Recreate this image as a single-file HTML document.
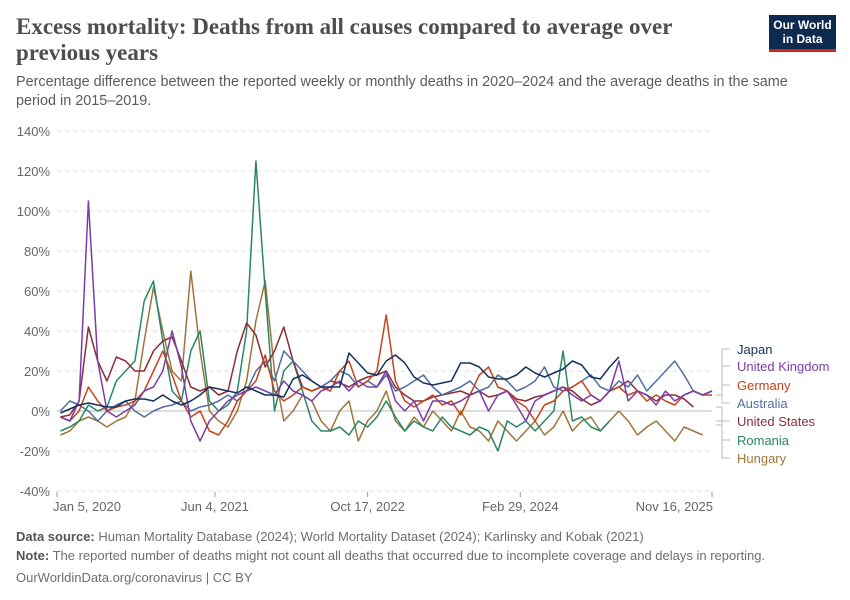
<!DOCTYPE html>
<html><head><meta charset="utf-8">
<style>
body{margin:0;background:#fff;width:850px;height:600px;overflow:hidden;font-family:"Liberation Sans",sans-serif;}
#title{position:absolute;left:16px;top:14px;font-family:"Liberation Serif",serif;font-weight:bold;font-size:23px;line-height:26px;color:#4e4e4e;width:700px;}
#subtitle{position:absolute;left:16px;top:73px;font-size:14.4px;line-height:19px;color:#5b5b5b;width:800px;}
#logo{position:absolute;left:769px;top:15px;width:67px;height:37px;background:#0f2a4f;color:#fff;font-size:12px;line-height:14px;text-align:center;font-weight:bold;border-bottom:3px solid #ce261e;box-sizing:border-box;padding-top:3px;}
.foot{position:absolute;left:16px;font-size:13px;color:#6e6e6e;}
.foot b{color:#555;}
</style></head><body>
<div id="title">Excess mortality: Deaths from all causes compared to average over previous years</div>
<div id="subtitle">Percentage difference between the reported weekly or monthly deaths in 2020–2024 and the average deaths in the same period in 2015–2019.</div>
<div id="logo">Our World<br>in Data</div>
<svg id="chart" width="850" height="600" style="position:absolute;left:0;top:0"></svg>
<div class="foot" style="top:529px"><b>Data source:</b> Human Mortality Database (2024); World Mortality Dataset (2024); Karlinsky and Kobak (2021)</div>
<div class="foot" style="top:548px"><b>Note:</b> The reported number of deaths might not count all deaths that occurred due to incomplete coverage and delays in reporting.</div>
<div class="foot" style="top:570px">OurWorldinData.org/coronavirus | CC BY</div>
<script>
const yTicks=[-40,-20,0,20,40,60,80,100,120,140];
const xTickLabels=["Jan 5, 2020","Jun 4, 2021","Oct 17, 2022","Feb 29, 2024","Nov 16, 2025"];
const xTickMonths=[0.13,17.1,33.5,49.9,70.5];
const seriesNames=["Japan","United Kingdom","Germany","Australia","United States","Romania","Hungary"];
const japan=[-1,1,3,4,3,2,2,5,6,6,5,8,5,3,5,8,12,11,10,9,12,10,8,8,7,16,18,15,12,12,12,29,24,19,18,25,28,24,17,14,13,14,15,24,24,22,17,16,16,18,22,19,17,19,21,25,23,17,16,22,27];
const uk=[-3,-5,5,105,25,0,-3,0,3,10,12,20,40,22,-5,-15,-5,0,5,8,10,12,10,8,15,10,8,5,10,12,15,10,15,12,12,20,5,0,5,-5,5,5,3,5,8,10,0,8,10,3,-5,5,8,10,12,8,5,8,5,10,25,5,10,8,3,10,5,8,10,8,10];
const germany=[-3,-5,0,12,5,0,2,3,5,10,20,30,18,5,-3,0,-10,-12,-5,5,10,15,28,10,5,8,12,10,12,10,20,25,12,15,20,48,15,5,2,5,8,3,5,-2,8,18,22,12,10,5,2,-5,3,5,10,12,15,8,5,10,12,8,10,5,8,5,3,8,10,8,8];
const australia=[0,5,3,0,-5,0,3,5,0,-3,0,2,3,5,0,2,3,5,8,5,10,20,25,15,30,25,20,15,12,15,20,18,12,15,12,18,10,12,15,18,12,8,10,12,15,10,12,18,15,10,12,15,22,12,10,12,15,18,12,10,15,12,18,10,15,20,25,18,10,8,10];
const us=[-3,-2,5,42,25,15,27,25,20,20,30,35,37,25,12,10,12,8,10,30,44,38,22,30,42,25,12,10,12,15,14,12,15,17,18,20,12,8,5,5,7,8,9,10,8,10,7,8,10,6,5,7,8,10,12,10,6,3,5,10,12,15,10,8,5,8,8,6,2];
const romania=[-10,-8,-5,3,0,2,15,20,25,55,65,35,10,5,30,40,5,0,3,10,40,125,60,0,20,25,10,-5,-10,-10,-8,-12,-5,-8,-3,5,-3,-10,-5,-8,-10,-3,-8,-10,-12,-8,-10,-20,-5,-8,-5,-10,-5,0,30,-5,-3,-8,-10,-5];
const hungary=[-12,-10,-5,-3,-5,-8,-5,-3,5,35,62,40,20,15,70,30,0,-5,-8,0,15,45,65,20,-5,0,8,5,-5,-10,0,5,-15,-5,0,10,-5,-10,-3,-8,0,-5,-10,0,-8,-10,-15,-5,-10,-15,-10,-5,-12,-8,0,-10,-5,-3,-10,-5,0,-5,-12,-8,-5,-10,-15,-8,-10,-12];
const allSeries=[japan,uk,germany,australia,us,romania,hungary];
const colors=["#15325c","#7a3ea8","#c4441e","#4e6ea3","#8a2f3a","#2a8766","#a0753b"];
const labelY=[354,371,390,408,426,445,463];
const NS="http://www.w3.org/2000/svg";
const svg=document.getElementById('chart');
const X0=57,X1=712;
function xs(m){return X0+(m-0.13)*(X1-X0)/(70.5-0.13);}
function ys(v){return 411-v*(411-131)/140;}
function mk(t,a){const e=document.createElementNS(NS,t);for(const k in a)e.setAttribute(k,a[k]);svg.appendChild(e);return e;}
yTicks.forEach(v=>{
  const l=mk('line',{x1:X0,x2:X1,y1:ys(v),y2:ys(v),stroke:v===0?'#bbb':'#ddd','stroke-width':1,'stroke-dasharray':v===0?'':'4,4'});
  
  
  const t=mk('text',{x:50,y:ys(v)+5,'text-anchor':'end','font-size':13,fill:'#666'});
  t.textContent=v+'%';
  
  
});
xTickLabels.forEach((lab,i)=>{
  const x=xs(xTickMonths[i]);
  const tk=mk('line',{x1:x,x2:x,y1:492,y2:497,stroke:'#999'});
  
  
  const anchor=i===0?'start':(i===xTickLabels.length-1?'end':'middle');
  const t=mk('text',{x:i===0?x-4:(i===xTickLabels.length-1?x+1:x),y:511,'text-anchor':anchor,'font-size':13,fill:'#666'});
  t.textContent=lab;
  
  
});
const drawOrder=[6,5,4,3,2,1,0];
drawOrder.forEach(si=>{
  const d=allSeries[si].map((v,i)=>(i?'L':'M')+xs(i+0.5).toFixed(1)+','+ys(v).toFixed(1)).join('');
  const p=mk('path',{d:d,fill:'none',stroke:colors[si],'stroke-width':1.5,'stroke-linejoin':'round'});
  
  
});
seriesNames.forEach((n,si)=>{
  const arr=allSeries[si];
  const ey=Math.min(Math.max(ys(arr[arr.length-1]),395),425);
  const c=mk('path',{d:`M716,${ey} L722,${ey} L722,${labelY[si]-5} L730,${labelY[si]-5}`,fill:'none',stroke:'#bbb','stroke-width':1});
  
  
  const t=mk('text',{x:737,y:labelY[si],'font-size':13,fill:colors[si]});
  t.textContent=n;
  
  
});
</script>
</body></html>
